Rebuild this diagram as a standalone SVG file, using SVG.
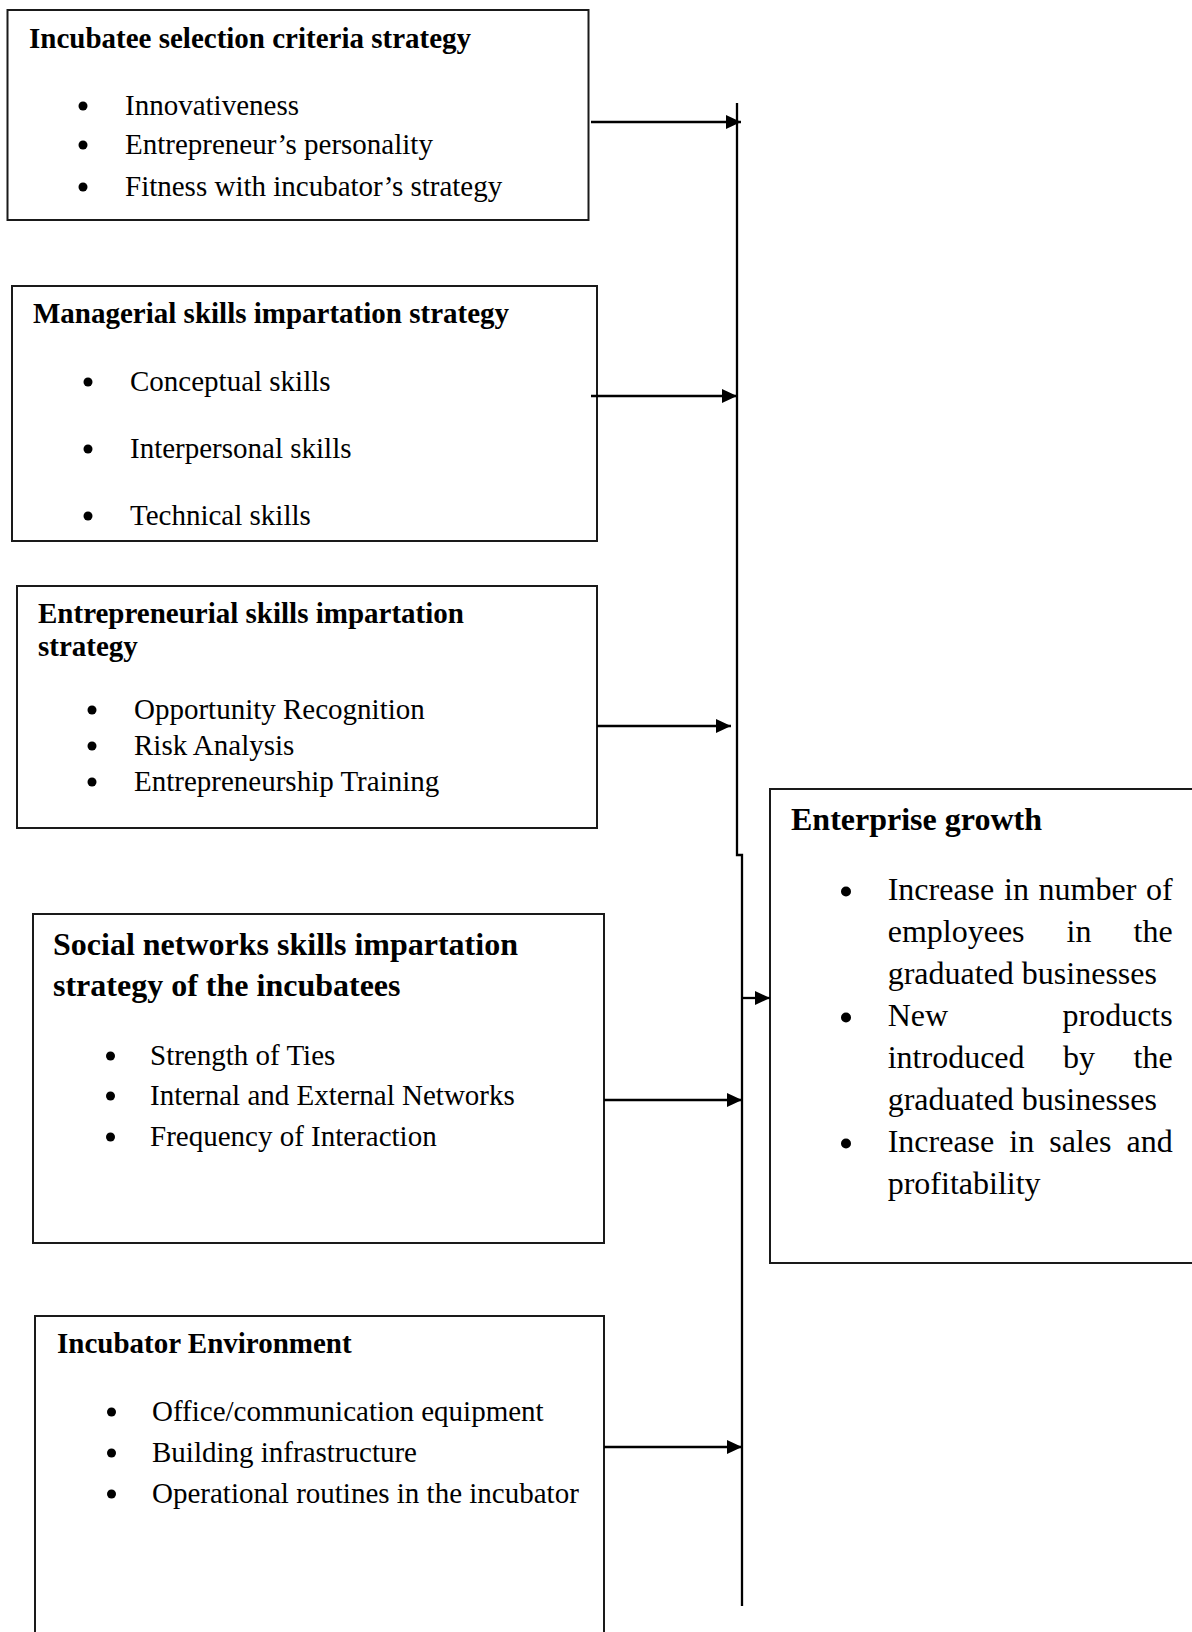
<svg xmlns="http://www.w3.org/2000/svg" width="1192" height="1632" viewBox="0 0 1192 1632">
<style>
.box{fill:none;stroke:#1a1a1a;stroke-width:2}
.t{font-family:"Liberation Serif","Times New Roman",serif;fill:#000}
.h{font-weight:bold;font-size:29px}
.hl{font-weight:bold;font-size:32px}
.b{font-size:29px}
.bl{font-size:32px}
.dot{fill:#000}
.conn{fill:none;stroke:#000;stroke-width:2.3}
</style>
<defs>
<marker id="ah" viewBox="0 0 15 14" refX="15" refY="7" markerWidth="15" markerHeight="14" markerUnits="userSpaceOnUse" orient="auto">
<path d="M0,0 L15,7 L0,14 z" fill="#000"/>
</marker>
</defs>
<rect width="1192" height="1632" fill="#fff"/>

<g id="node-selection">
<rect class="box" x="7.5" y="10" width="581" height="210"/>
<text class="t h" x="29" y="48">Incubatee selection criteria strategy</text>
<circle class="dot" cx="83" cy="106" r="4.5"/>
<circle class="dot" cx="83" cy="145" r="4.5"/>
<circle class="dot" cx="83" cy="187" r="4.5"/>
<text class="t b" x="125" y="115">Innovativeness</text>
<text class="t b" x="125" y="154">Entrepreneur’s personality</text>
<text class="t b" x="125" y="196">Fitness with incubator’s strategy</text>
</g>

<g id="node-managerial">
<rect class="box" x="12" y="286" width="585" height="255"/>
<text class="t h" x="33" y="323">Managerial skills impartation strategy</text>
<circle class="dot" cx="88" cy="382" r="4.5"/>
<circle class="dot" cx="88" cy="449" r="4.5"/>
<circle class="dot" cx="88" cy="516" r="4.5"/>
<text class="t b" x="130" y="391">Conceptual skills</text>
<text class="t b" x="130" y="458">Interpersonal skills</text>
<text class="t b" x="130" y="525">Technical skills</text>
</g>

<g id="node-entrepreneurial">
<rect class="box" x="17" y="586" width="580" height="242"/>
<text class="t h" x="38" y="623">Entrepreneurial skills impartation</text>
<text class="t h" x="38" y="656">strategy</text>
<circle class="dot" cx="92" cy="710" r="4.5"/>
<circle class="dot" cx="92" cy="746" r="4.5"/>
<circle class="dot" cx="92" cy="782" r="4.5"/>
<text class="t b" x="134" y="719">Opportunity Recognition</text>
<text class="t b" x="134" y="755">Risk Analysis</text>
<text class="t b" x="134" y="791">Entrepreneurship Training</text>
</g>

<g id="node-social">
<rect class="box" x="33" y="914" width="571" height="329"/>
<text class="t hl" x="53" y="955">Social networks skills impartation</text>
<text class="t hl" x="53" y="996">strategy of the incubatees</text>
<circle class="dot" cx="110.5" cy="1056" r="4.5"/>
<circle class="dot" cx="110.5" cy="1096" r="4.5"/>
<circle class="dot" cx="110.5" cy="1137" r="4.5"/>
<text class="t b" x="150" y="1065">Strength of Ties</text>
<text class="t b" x="150" y="1105">Internal and External Networks</text>
<text class="t b" x="150" y="1146">Frequency of Interaction</text>
</g>

<g id="node-environment">
<path class="box" d="M35,1640 V1316 H604 V1640"/>
<text class="t h" x="57" y="1353">Incubator Environment</text>
<circle class="dot" cx="111.5" cy="1412" r="4.5"/>
<circle class="dot" cx="111.5" cy="1453" r="4.5"/>
<circle class="dot" cx="111.5" cy="1494" r="4.5"/>
<text class="t b" x="152" y="1421">Office/communication equipment</text>
<text class="t b" x="152" y="1462">Building infrastructure</text>
<text class="t b" x="152" y="1503">Operational routines in the incubator</text>
</g>

<g id="node-growth">
<path class="box" d="M1200,789 H770 V1263 H1200"/>
<text class="t hl" x="791" y="830">Enterprise growth</text>
<circle class="dot" cx="846" cy="891.5" r="5"/>
<circle class="dot" cx="846" cy="1017.5" r="5"/>
<circle class="dot" cx="846" cy="1143.5" r="5"/>
<text class="t bl" y="900"><tspan x="887.7">Increase</tspan><tspan x="1004">in</tspan><tspan x="1038.6">number</tspan><tspan x="1172.7" text-anchor="end">of</tspan></text>
<text class="t bl" y="942"><tspan x="887.7">employees</tspan><tspan x="1066.6">in</tspan><tspan x="1172.7" text-anchor="end">the</tspan></text>
<text class="t bl" x="887.7" y="984">graduated businesses</text>
<text class="t bl" y="1026"><tspan x="887.7">New</tspan><tspan x="1172.7" text-anchor="end">products</tspan></text>
<text class="t bl" y="1068"><tspan x="887.7">introduced</tspan><tspan x="1063.1">by</tspan><tspan x="1172.7" text-anchor="end">the</tspan></text>
<text class="t bl" x="887.7" y="1110">graduated businesses</text>
<text class="t bl" y="1152"><tspan x="887.7">Increase</tspan><tspan x="1009.3">in</tspan><tspan x="1049.2">sales</tspan><tspan x="1172.7" text-anchor="end">and</tspan></text>
<text class="t bl" x="887.7" y="1194">profitability</text>
</g>

<g id="connectors">
<path class="conn" d="M737,103 V855 H742 V1606" stroke-width="2"/>
<line class="conn" x1="591" y1="122" x2="741" y2="122" marker-end="url(#ah)"/>
<line class="conn" x1="591" y1="396" x2="737" y2="396" marker-end="url(#ah)"/>
<line class="conn" x1="597" y1="726" x2="731" y2="726" marker-end="url(#ah)"/>
<line class="conn" x1="604" y1="1100" x2="742" y2="1100" marker-end="url(#ah)"/>
<line class="conn" x1="604" y1="1447" x2="742" y2="1447" marker-end="url(#ah)"/>
<line class="conn" x1="742" y1="998" x2="770" y2="998" marker-end="url(#ah)"/>
</g>
</svg>
